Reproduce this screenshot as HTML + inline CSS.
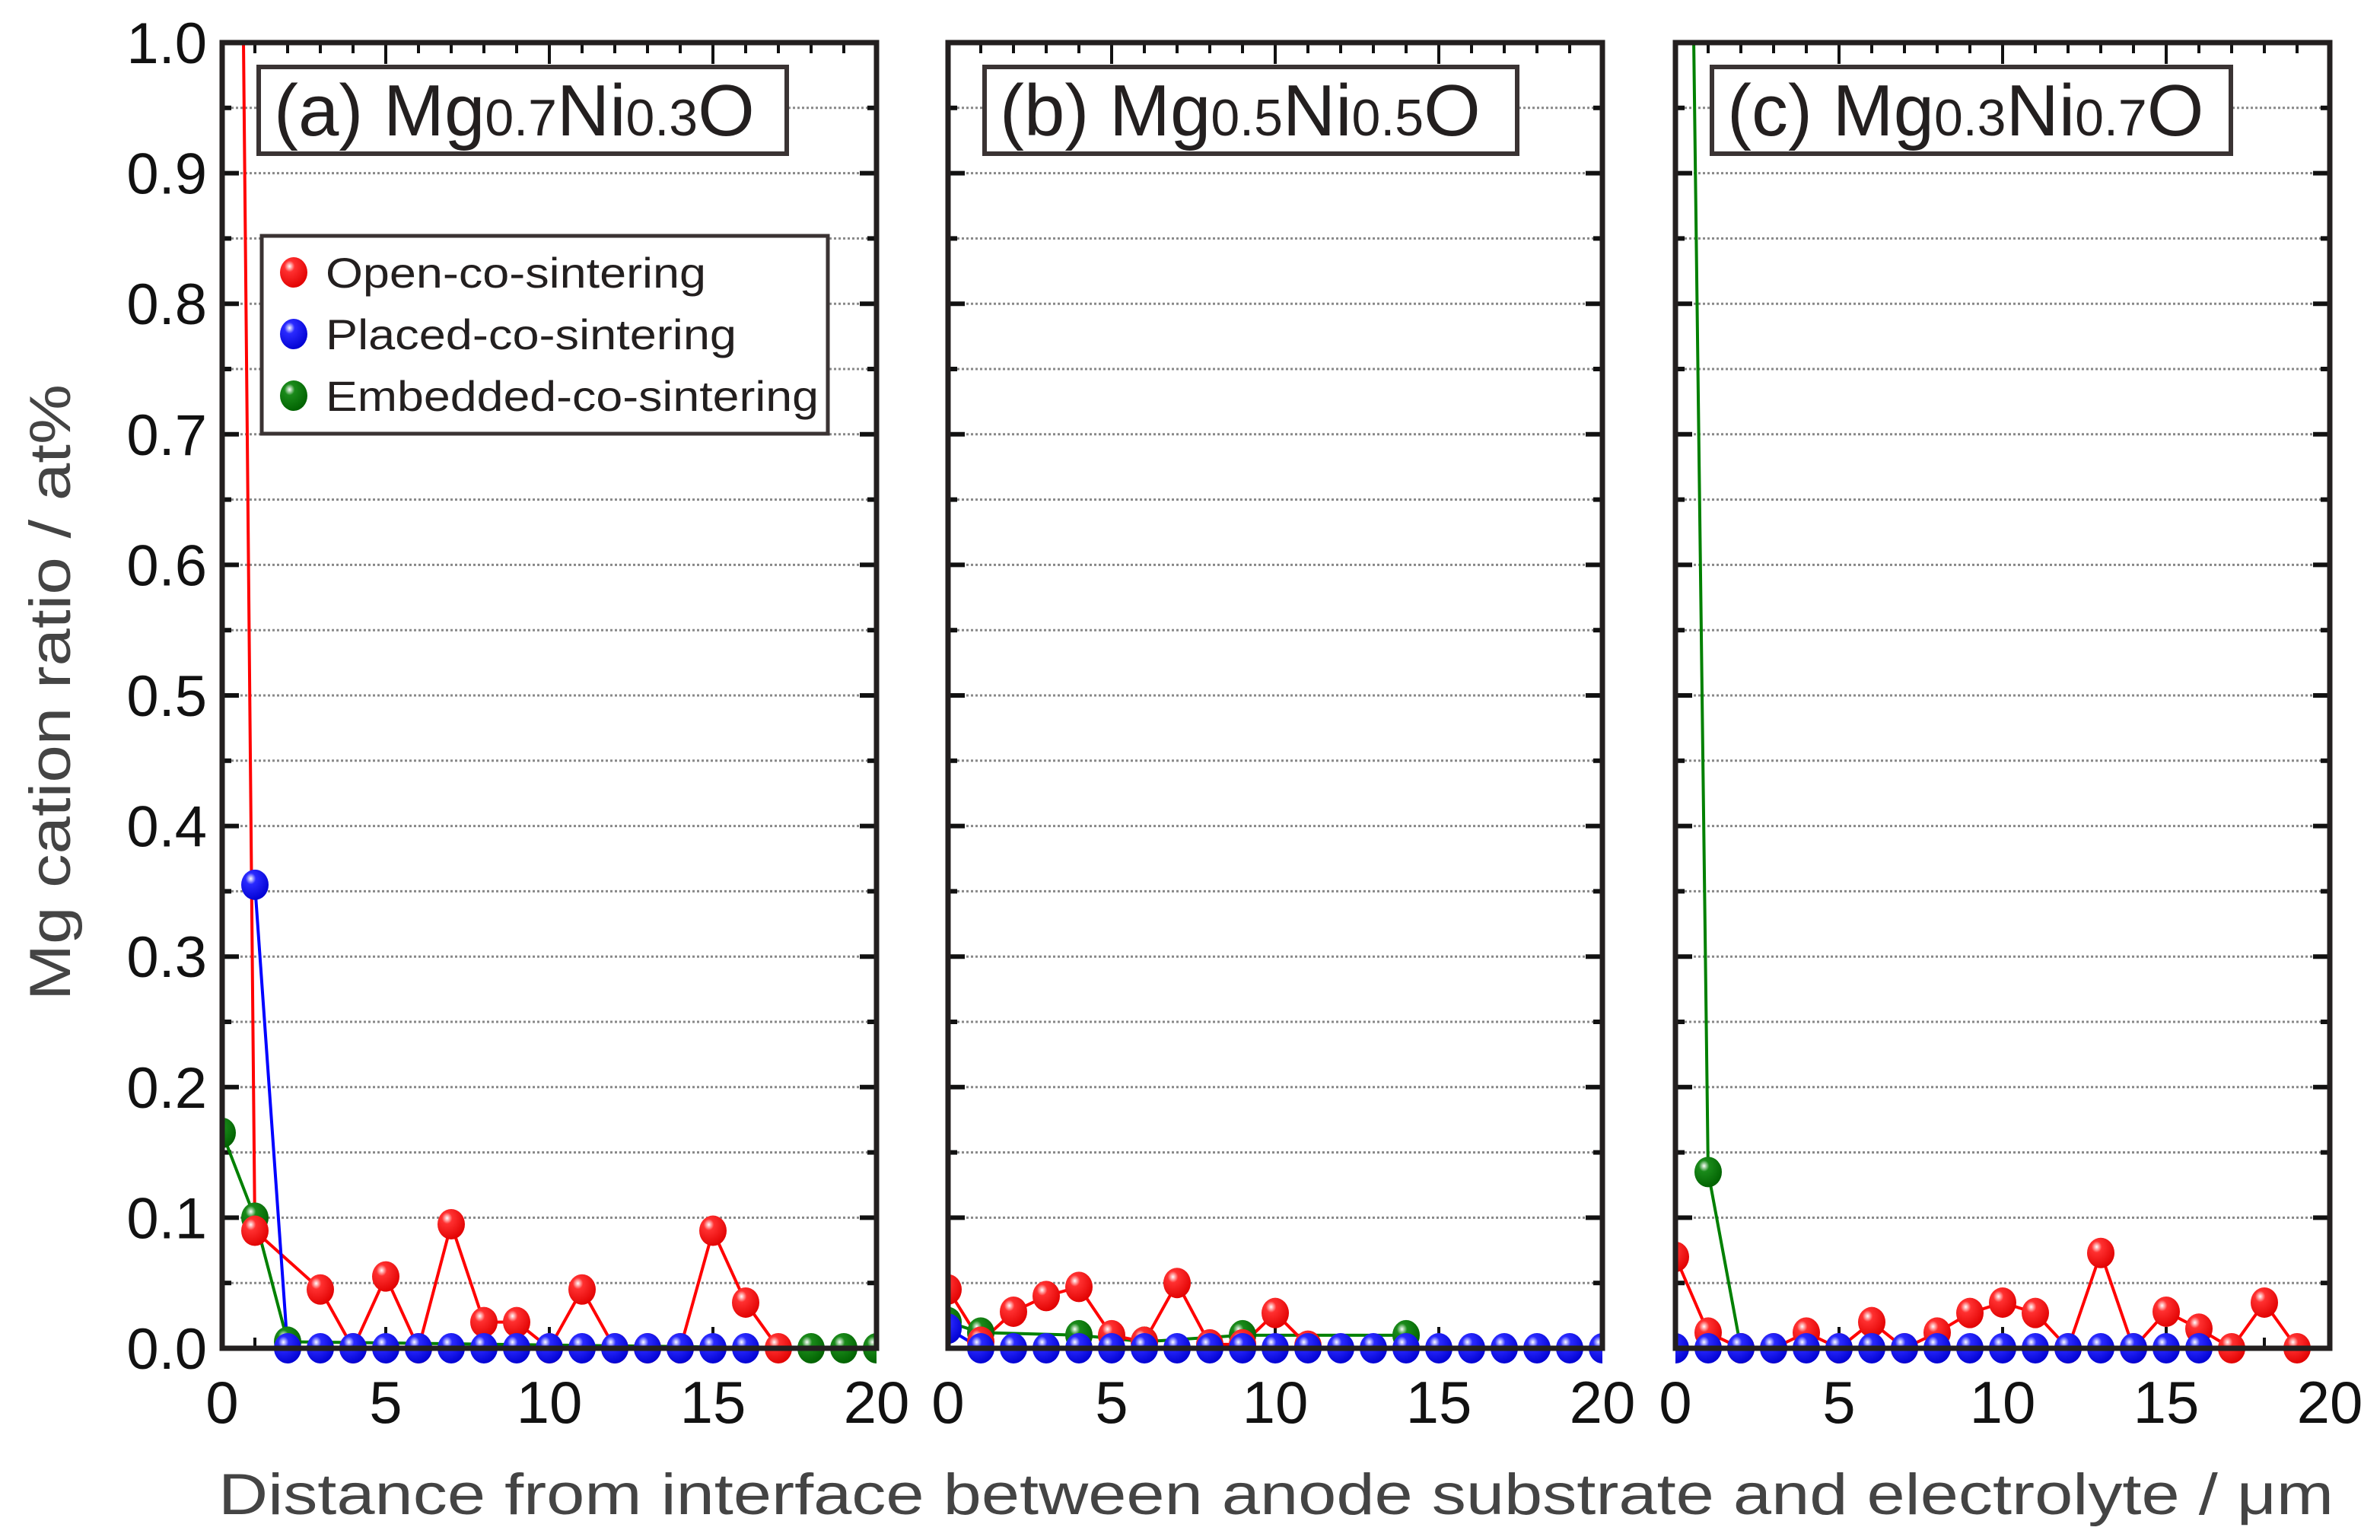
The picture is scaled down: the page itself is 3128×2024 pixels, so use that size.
<!DOCTYPE html>
<html><head><meta charset="utf-8"><style>
html,body{margin:0;padding:0;background:#fff}
svg{display:block}
text{font-family:"Liberation Sans",sans-serif}
</style></head><body>
<svg id="chart" width="3128" height="2024" viewBox="0 0 3128 2024" xmlns="http://www.w3.org/2000/svg">
<defs>
<radialGradient id="gr" cx="0.35" cy="0.3" r="0.75"><stop offset="0" stop-color="#fff"/><stop offset="0.25" stop-color="#ff3030"/><stop offset="1" stop-color="#e00000"/></radialGradient>
<radialGradient id="gb" cx="0.35" cy="0.3" r="0.75"><stop offset="0" stop-color="#fff"/><stop offset="0.25" stop-color="#2a2aff"/><stop offset="1" stop-color="#0000d0"/></radialGradient>
<radialGradient id="gg" cx="0.35" cy="0.3" r="0.75"><stop offset="0" stop-color="#fff"/><stop offset="0.25" stop-color="#1a8a1a"/><stop offset="1" stop-color="#006000"/></radialGradient>
</defs>
<g id="root"></g>
</svg>
<script>
const xTicks = [0, 5, 10, 15, 20];
const yTicks = [0.0, 0.1, 0.2, 0.3, 0.4, 0.5, 0.6, 0.7, 0.8, 0.9, 1.0];
const panelTitles = ["(a) Mg|0.7|Ni|0.3|O", "(b) Mg|0.5|Ni|0.5|O", "(c) Mg|0.3|Ni|0.7|O"];
const seriesNames = ["Open-co-sintering", "Placed-co-sintering", "Embedded-co-sintering"];
// panel a
const aRedX = [0,1,3,4,5,6,7,8,9,10,11,12,13,14,15,16,17];
const aRedY = [2.7,0.09,0.045,0,0.055,0,0.095,0.02,0.02,0,0.045,0,0,0,0.09,0.035,0];
const aBlueX = [1,2,3,4,5,6,7,8,9,10,11,12,13,14,15,16];
const aBlueY = [0.355,0,0,0,0,0,0,0,0,0,0,0,0,0,0,0];
const aGreenX = [0,1,2,18,19,20];
const aGreenY = [0.165,0.1,0.005,0,0,0];
// panel b
const bRedX = [0,1,2,3,4,5,6,7,8,9,10,11];
const bRedY = [0.045,0.005,0.028,0.04,0.047,0.01,0.005,0.05,0.003,0.003,0.027,0.002];
const bBlueX = [0,1,2,3,4,5,6,7,8,9,10,11,12,13,14,15,16,17,18,19,20];
const bBlueY = [0.015,0,0,0,0,0,0,0,0,0,0,0,0,0,0,0,0,0,0,0,0];
const bGreenX = [0,1,4,6,9,14];
const bGreenY = [0.02,0.012,0.01,0.005,0.01,0.01];
// panel c
const cRedX = [0,1,2,3,4,5,6,7,8,9,10,11,12,13,14,15,16,17,18,19];
const cRedY = [0.07,0.012,0,0,0.012,0,0.02,0,0.012,0.027,0.035,0.027,0,0.073,0,0.028,0.015,0,0.035,0];
const cBlueX = [0,1,2,3,4,5,6,7,8,9,10,11,12,13,14,15,16];
const cBlueY = [0,0,0,0,0,0,0,0,0,0,0,0,0,0,0,0,0];
const cGreenX = [0,1,2];
const cGreenY = [2.1,0.135,0];

const NS = "http://www.w3.org/2000/svg";
const root = document.getElementById("root");
function mk(tag, attrs, parent){const e=document.createElementNS(NS,tag);for(const k in attrs)e.setAttribute(k,attrs[k]);(parent||root).appendChild(e);return e;}

const TOP=56, BOT=1772;
const panelLefts=[292,1246,2202], W=860;
const yS = v => BOT - v*(BOT-TOP);

const panels = [
 {red:[aRedX,aRedY],blue:[aBlueX,aBlueY],green:[aGreenX,aGreenY]},
 {red:[bRedX,bRedY],blue:[bBlueX,bBlueY],green:[bGreenX,bGreenY]},
 {red:[cRedX,cRedY],blue:[cBlueX,cBlueY],green:[cGreenX,cGreenY]}
];
const colors={red:"#ff0000",blue:"#0000ff",green:"#008000"};
const grads={red:"url(#gr)",blue:"url(#gb)",green:"url(#gg)"};

panels.forEach((p,pi)=>{
  const L=panelLefts[pi], R=L+W;
  const xS = v => L + v/20*W;
  const g=mk("g",{});
  
  
  for(let i=1;i<20;i++){
    const gl=mk("line",{x1:L,x2:R,y1:yS(i*0.05),y2:yS(i*0.05),stroke:"#888","stroke-width":3,"stroke-dasharray":"3 3"},g);
    
    
  }
  for(let i=0;i<=20;i++){
    const len = i%2==0?22:12; const y=yS(i*0.05);
    mk("line",{x1:L,x2:L+len,y1:y,y2:y,stroke:"#111","stroke-width":6},g);
    mk("line",{x1:R,x2:R-len,y1:y,y2:y,stroke:"#111","stroke-width":6},g);
  }
  for(let i=0;i<=20;i++){
    const len = i%5==0?28:14; const x=xS(i);
    mk("line",{x1:x,x2:x,y1:TOP,y2:TOP+len,stroke:"#111","stroke-width":4},g);
    mk("line",{x1:x,x2:x,y1:BOT,y2:BOT-len,stroke:"#111","stroke-width":4},g);
  }
  const cp=mk("clipPath",{id:"clip"+pi},g);
  mk("rect",{x:L,y:TOP,width:W,height:BOT-TOP+30},cp);
  const dg=mk("g",{"clip-path":"url(#clip"+pi+")"},g);
  ["green","red","blue"].forEach(s=>{
    const [xs,ys]=p[s];
    const pts=xs.map((x,i)=>xS(x)+","+yS(ys[i])).join(" ");
    const pl=mk("polyline",{points:pts,fill:"none",stroke:colors[s],"stroke-width":4},dg);
    
    
  });
  ["green","red","blue"].forEach(s=>{
    const [xs,ys]=p[s];
    xs.forEach((x,i)=>{
      const c=mk("ellipse",{cx:xS(x),cy:yS(ys[i]),rx:18,ry:20,fill:grads[s]},dg);
      
      
    });
  });
  const fr=mk("rect",{x:L,y:TOP,width:W,height:BOT-TOP,fill:"none",stroke:"#231f1f","stroke-width":7},g);
  
  
  xTicks.forEach(t=>{
    const tx=mk("text",{x:xS(t),y:1870,"font-size":78,"text-anchor":"middle",fill:"#111"},g);
    tx.textContent=t;
    
    
  });
  const bx=L+48, bw=[694,700,682][pi];
  const tb=mk("rect",{x:bx,y:88,width:bw,height:114,fill:"#fff",stroke:"#3a3333","stroke-width":6},g);
  
  
  const parts=panelTitles[pi].split("|");
  const tt=mk("text",{x:bx+20,y:178,"font-size":96,fill:"#231f1f"},g);
  
  
  parts.forEach((pt,k)=>{const ts=mk("tspan",{"font-size":k%2?68:96},tt);ts.textContent=pt;});
});

yTicks.forEach(t=>{
  const tx=mk("text",{x:272,y:yS(t)+27,"font-size":76,"text-anchor":"end",fill:"#111"});
  tx.textContent=t.toFixed(1);
  
  
});

const lg=mk("g",{});


mk("rect",{x:344,y:310,width:744,height:260,fill:"#fff",stroke:"#3a3333","stroke-width":5},lg);
["red","blue","green"].forEach((s,i)=>{
  const cy=358+i*81;
  const m=mk("ellipse",{cx:386,cy:cy,rx:18,ry:20,fill:grads[s]},lg);
  
  
  const t=mk("text",{x:428,y:cy+20,"font-size":56,fill:"#231f1f",textLength:[500,540,648][i],lengthAdjust:"spacingAndGlyphs"},lg);
  t.textContent=seriesNames[i];
  
  
});

const xt=mk("text",{x:1677,y:1990,"font-size":76,"text-anchor":"middle",fill:"#444",textLength:2780,lengthAdjust:"spacingAndGlyphs"});
xt.textContent="Distance from interface between anode substrate and electrolyte / μm";


const yt=mk("text",{x:0,y:0,"font-size":76,"text-anchor":"middle",fill:"#444",transform:"translate(92,910) rotate(-90)",textLength:810,lengthAdjust:"spacingAndGlyphs"});
yt.textContent="Mg cation ratio / at%";


</script>
</body></html>
